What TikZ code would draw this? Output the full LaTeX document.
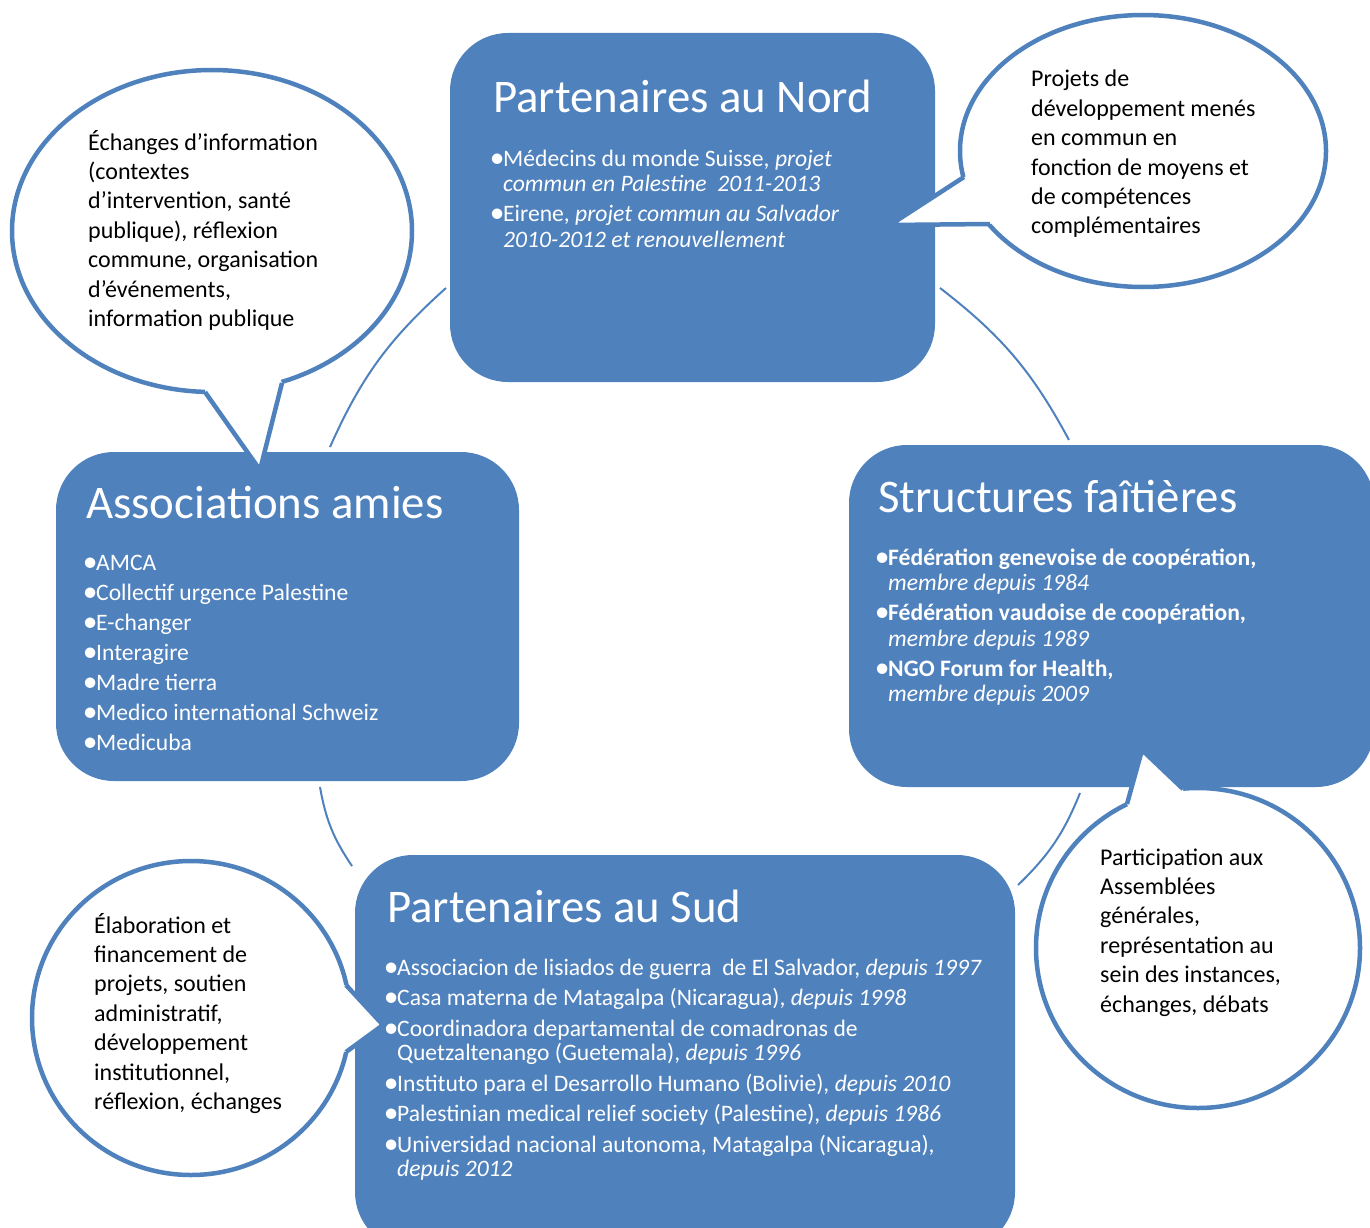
\documentclass[tikz,border=0pt]{standalone}
\usepackage{fontspec}
\usepackage{graphicx}
\setmainfont{Carlito}
\usetikzlibrary{shapes.geometric,calc}
\definecolor{boxblue}{RGB}{79,129,189}
\newcommand{\blt}{\makebox[10pt][l]{\hspace*{4pt}\makebox[0pt]{\raisebox{-1pt}{\scalebox{1.25}{•}}}}}
\newcommand{\ind}{\hspace*{10pt}}
\begin{document}
\begin{tikzpicture}[x=1pt,y=-1pt,
  box/.style={rectangle, fill=boxblue, rounded corners=58pt, anchor=north west, inner sep=0pt, outer sep=0pt},
  ttl/.style={anchor=base west, inner sep=0pt, text=white, font=\fontsize{46.8}{50}\selectfont},
  lst/.style={anchor=base west, inner sep=0pt, text=white, font=\fontsize{23.6}{25.5}\selectfont},
  bubble/.style={ellipse, draw=boxblue, line width=4.5pt, fill=white, inner sep=0pt},
  ptr/.style={draw=boxblue, line width=4.5pt, line join=miter},
  btxt/.style={anchor=base west, inner sep=0pt, text=black, font=\fontsize{24}{29.4}\selectfont},
  conn/.style={draw=boxblue, line width=2pt},
]
\useasboundingbox (0,0) rectangle (1370,1228);

% boxes
\node[box, minimum width=485pt, minimum height=349pt] (nord) at (450,33) {};
\node[box, minimum width=463pt, minimum height=329pt] (amies) at (56,452) {};
\node[box, minimum width=525pt, minimum height=342pt] (faitieres) at (849,445) {};
\node[box, minimum width=660pt, minimum height=395pt] (sud) at (355,855) {};

% connectors (cycle arcs)
\coordinate (a1s) at (330,447); \coordinate (a1e) at (446,288);
\coordinate (a2s) at (940,288); \coordinate (a2e) at (1069,440);
\coordinate (a3s) at (1080,793); \coordinate (a3e) at (1018,885);
\coordinate (a4s) at (352,866); \coordinate (a4e) at (320,787);
\draw[conn] (a1s) to[bend left=12] (a1e);
\draw[conn] (a2s) to[bend left=12] (a2e);
\draw[conn] (a3s) to[bend left=12] (a3e);
\draw[conn] (a4s) to[bend left=12] (a4e);

% box texts
\node[ttl] (tnord) at (493,113) {Partenaires au Nord};
\node[ttl] (tamies) at (86,518) {Associations amies};
\node[ttl] (tfait) at (878,512) {Structures faîtières};
\node[ttl] (tsud) at (387,922) {Partenaires au Sud};

\node[lst] (lnord) at (493,166) {\parbox[t]{430pt}{\blt Médecins du monde Suisse, \textit{projet}\\\ind\textit{commun en Palestine\ \ 2011-2013}\\[4.5pt]\blt Eirene, \textit{projet commun au Salvador}\\\ind\textit{2010-2012 et renouvellement}}};

\node[lst, font=\fontsize{23.6}{30}\selectfont] (lamies) at (86,570) {\parbox[t]{420pt}{\blt AMCA\\\blt Collectif urgence Palestine\\\blt E-changer\\\blt Interagire\\\blt Madre tierra\\\blt Medico international Schweiz\\\blt Medicuba}};

\node[lst] (lfait) at (878,565) {\parbox[t]{470pt}{\blt\textbf{Fédération genevoise de coopération,}\\\ind\textit{membre depuis 1984}\\[4.5pt]\blt\textbf{Fédération vaudoise de coopération,}\\\ind\textit{membre depuis 1989}\\[4.5pt]\blt\textbf{NGO Forum for Health,}\\\ind\textit{membre depuis 2009}}};

\node[lst, font=\fontsize{23.6}{24.5}\selectfont] (lsud) at (387,975) {\parbox[t]{620pt}{\blt Associacion de lisiados de guerra\ \ de El Salvador, \textit{depuis 1997}\\[6pt]\blt Casa materna de Matagalpa (Nicaragua), \textit{depuis 1998}\\[6pt]\blt Coordinadora departamental de comadronas de\\\ind Quetzaltenango (Guetemala), \textit{depuis 1996}\\[6pt]\blt Instituto para el Desarrollo Humano (Bolivie), \textit{depuis 2010}\\[6pt]\blt Palestinian medical relief society (Palestine), \textit{depuis 1986}\\[6pt]\blt Universidad nacional autonoma, Matagalpa (Nicaragua),\\\ind\textit{depuis 2012}}};

% callouts
\node[bubble, minimum width=400pt, minimum height=322pt] (c1) at (212,231) {};
\node[bubble, minimum width=366pt, minimum height=272pt] (c2) at (1143,151) {};
\node[bubble, minimum width=324pt, minimum height=320pt] (c3) at (1198,948) {};
\node[bubble, minimum width=318pt, minimum height=314pt] (c4) at (191,1018) {};

\coordinate (c1b1) at (205,392); \coordinate (c1tip) at (260,470); \coordinate (c1b2) at (282,383);
\coordinate (c2b1) at (964,177); \coordinate (c2tip) at (890,225); \coordinate (c2b2) at (990,224);
\coordinate (c3b1) at (1127,804); \coordinate (c3tip) at (1142,750); \coordinate (c3b2) at (1183,789);
\coordinate (c4b1) at (346,985); \coordinate (c4tip) at (383,1025); \coordinate (c4b2) at (346,1052);

\foreach \c in {c1,c2,c3,c4}{
  \fill[white] (\c b1) -- (\c tip) -- (\c b2) -- ($(\c b2)!14pt!(\c.center)$) -- ($(\c b1)!14pt!(\c.center)$) -- cycle;
  \draw[ptr] (\c b1) -- (\c tip) -- (\c b2);
}

\node[btxt] (t1) at (88,150) {\parbox[t]{330pt}{Échanges d’information\\(contextes\\d’intervention, santé\\publique), réflexion\\commune, organisation\\d’événements,\\information publique}};
\node[btxt] (t2) at (1031,87) {\parbox[t]{330pt}{Projets de\\développement menés\\en commun en\\fonction de moyens et\\de compétences\\complémentaires}};
\node[btxt] (t3) at (1100,865) {\parbox[t]{330pt}{Participation aux\\Assemblées\\générales,\\représentation au\\sein des instances,\\échanges, débats}};
\node[btxt] (t4) at (94,933) {\parbox[t]{330pt}{Élaboration et\\financement de\\projets, soutien\\administratif,\\développement\\institutionnel,\\réflexion, échanges}};
\end{tikzpicture}
\end{document}
